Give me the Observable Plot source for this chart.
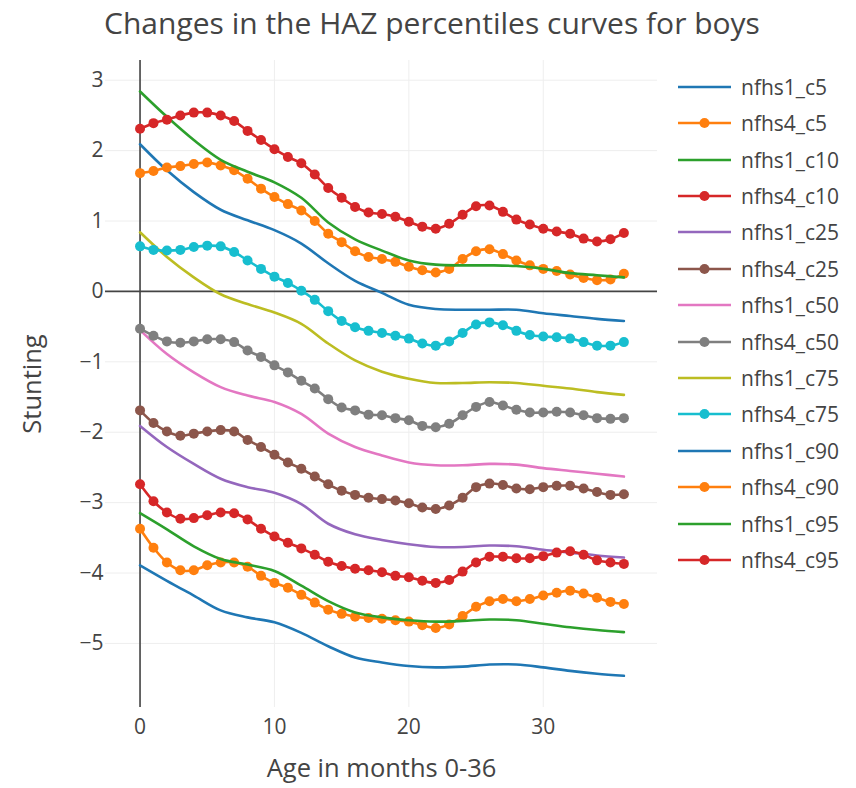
<!DOCTYPE html>
<html>
<head>
<meta charset="utf-8">
<script src="https://cdn.jsdelivr.net/npm/d3@7"></script>
<script src="https://cdn.jsdelivr.net/npm/@observablehq/plot@0.6"></script>
<style>
  body { margin: 0; background: #fff; font-family: "Open Sans", sans-serif; }
  #wrap { position: relative; width: 856px; height: 788px; overflow: hidden; }
  #title { position: absolute; left: 0; top: 3px; width: 864px; text-align: center;
           font-size: 30px; line-height: 40px; color: #444; white-space: nowrap; }
  #chart { position: absolute; left: 0; top: 55px; }
  .lg { position: absolute; left: 678px; height: 30px; display: flex; align-items: center; }
  .lg span { margin-left: 10px; font-size: 21px; color: #444; white-space: nowrap; }
</style>
</head>
<body>
<div id="wrap">
  <div id="title">Changes in the HAZ percentiles curves for boys</div>
  <div id="chart"></div>
  <div id="legend"></div>
</div>
<script>
// ---- data ----
const monthsAll = [0,1,2,3,4,5,6,7,8,9,10,11,12,13,14,15,16,17,18,19,20,21,22,23,24,25,26,27,28,29,30,31,32,33,34,35,36];
const monthsEven = [0,2,4,6,8,10,12,14,16,18,20,22,24,26,28,30,32,34,36];
const xTicks = [0, 10, 20, 30];
const yTicks = [-5, -4, -3, -2, -1, 0, 1, 2, 3];

const nfhs1_c5  = [2.09,1.72,1.41,1.16,1.01,0.87,0.68,0.40,0.15,-0.02,-0.19,-0.25,-0.26,-0.26,-0.26,-0.31,-0.35,-0.39,-0.42];
const nfhs4_c5  = [1.68,1.71,1.76,1.78,1.81,1.83,1.79,1.72,1.60,1.46,1.34,1.24,1.15,1.00,0.82,0.70,0.57,0.49,0.46,
                   0.42,0.35,0.30,0.27,0.32,0.46,0.57,0.60,0.53,0.44,0.37,0.32,0.29,0.24,0.19,0.16,0.17,0.25];
const nfhs1_c10 = [2.84,2.48,2.15,1.87,1.70,1.55,1.33,0.98,0.74,0.58,0.44,0.38,0.37,0.37,0.36,0.32,0.26,0.23,0.20];
const nfhs4_c10 = [2.31,2.39,2.44,2.50,2.54,2.54,2.50,2.42,2.28,2.15,2.02,1.91,1.82,1.66,1.47,1.33,1.20,1.12,1.10,1.06,
                   0.99,0.92,0.89,0.96,1.09,1.21,1.22,1.13,1.02,0.95,0.89,0.85,0.82,0.75,0.71,0.74,0.83];
const nfhs1_c25 = [-1.91,-2.21,-2.45,-2.66,-2.78,-2.86,-3.02,-3.30,-3.45,-3.53,-3.59,-3.63,-3.63,-3.61,-3.62,-3.67,-3.71,-3.75,-3.78];
const nfhs4_c25 = [-1.69,-1.87,-1.99,-2.05,-2.02,-1.99,-1.97,-1.99,-2.11,-2.21,-2.32,-2.43,-2.52,-2.63,-2.74,-2.83,-2.89,-2.93,
                   -2.95,-2.97,-3.01,-3.07,-3.09,-3.04,-2.93,-2.78,-2.73,-2.75,-2.80,-2.81,-2.78,-2.76,-2.76,-2.80,-2.85,-2.89,-2.88];
const nfhs1_c50 = [-0.55,-0.89,-1.15,-1.36,-1.48,-1.57,-1.74,-2.02,-2.21,-2.33,-2.43,-2.47,-2.47,-2.45,-2.46,-2.51,-2.55,-2.59,-2.63];
const nfhs4_c50 = [-0.53,-0.63,-0.71,-0.73,-0.71,-0.68,-0.68,-0.72,-0.84,-0.93,-1.05,-1.15,-1.27,-1.38,-1.53,-1.65,-1.69,-1.75,
                   -1.76,-1.80,-1.83,-1.91,-1.93,-1.88,-1.76,-1.64,-1.57,-1.62,-1.68,-1.72,-1.72,-1.71,-1.72,-1.76,-1.80,-1.81,-1.80];
const nfhs1_c75 = [0.84,0.49,0.20,-0.04,-0.18,-0.30,-0.46,-0.74,-0.98,-1.14,-1.24,-1.30,-1.30,-1.29,-1.30,-1.34,-1.38,-1.43,-1.47];
const nfhs4_c75 = [0.64,0.59,0.58,0.59,0.63,0.65,0.64,0.56,0.44,0.32,0.21,0.12,0.01,-0.12,-0.28,-0.42,-0.51,-0.56,-0.59,-0.63,
                   -0.67,-0.74,-0.77,-0.71,-0.59,-0.47,-0.44,-0.48,-0.56,-0.62,-0.64,-0.65,-0.67,-0.72,-0.77,-0.77,-0.72];
const nfhs1_c90 = [-3.89,-4.11,-4.32,-4.53,-4.63,-4.70,-4.85,-5.04,-5.20,-5.27,-5.32,-5.34,-5.33,-5.30,-5.30,-5.34,-5.39,-5.43,-5.46];
const nfhs4_c90 = [-3.37,-3.64,-3.85,-3.96,-3.96,-3.89,-3.85,-3.85,-3.91,-4.04,-4.14,-4.21,-4.31,-4.42,-4.52,-4.58,-4.62,-4.64,-4.65,-4.67,
                   -4.69,-4.74,-4.78,-4.73,-4.61,-4.48,-4.40,-4.37,-4.40,-4.37,-4.32,-4.28,-4.25,-4.29,-4.35,-4.41,-4.44];
const nfhs1_c95 = [-3.15,-3.38,-3.62,-3.80,-3.88,-3.97,-4.18,-4.40,-4.56,-4.63,-4.67,-4.69,-4.68,-4.66,-4.67,-4.72,-4.77,-4.81,-4.84];
const nfhs4_c95 = [-2.74,-2.98,-3.14,-3.23,-3.22,-3.18,-3.14,-3.15,-3.24,-3.37,-3.48,-3.57,-3.65,-3.74,-3.84,-3.90,-3.94,-3.96,-3.99,-4.04,
                   -4.06,-4.11,-4.14,-4.10,-3.98,-3.85,-3.77,-3.77,-3.79,-3.79,-3.76,-3.71,-3.69,-3.74,-3.82,-3.85,-3.87];

const seriesNames = ["nfhs1_c5","nfhs4_c5","nfhs1_c10","nfhs4_c10","nfhs1_c25","nfhs4_c25","nfhs1_c50",
                     "nfhs4_c50","nfhs1_c75","nfhs4_c75","nfhs1_c90","nfhs4_c90","nfhs1_c95","nfhs4_c95"];
const seriesValues = [nfhs1_c5,nfhs4_c5,nfhs1_c10,nfhs4_c10,nfhs1_c25,nfhs4_c25,nfhs1_c50,
                      nfhs4_c50,nfhs1_c75,nfhs4_c75,nfhs1_c90,nfhs4_c90,nfhs1_c95,nfhs4_c95];
const seriesColors = ["#1f77b4","#ff7f0e","#2ca02c","#d62728","#9467bd","#8c564b","#e377c2",
                      "#7f7f7f","#bcbd22","#17becf","#1f77b4","#ff7f0e","#2ca02c","#d62728"];

// ---- chart ----
const fmt = d => (d < 0 ? "\u2212" + Math.abs(d) : String(d));
const marks = [
  Plot.gridX(xTicks, {stroke: "#eee", strokeOpacity: 1, strokeWidth: 1}),
  Plot.gridY(yTicks, {stroke: "#eee", strokeOpacity: 1, strokeWidth: 1}),
  Plot.ruleY([0], {stroke: "#444", strokeWidth: 1.6}),
  Plot.ruleX([0], {stroke: "#444", strokeWidth: 1.6}),
];
seriesNames.forEach((name, k) => {
  const withMarkers = name.startsWith("nfhs4");
  const xs = withMarkers ? monthsAll : monthsEven;
  const data = xs.map((m, i) => ({m, v: seriesValues[k][i]}));
  marks.push(Plot.line(data, {x: "m", y: "v", stroke: seriesColors[k], strokeWidth: 2.6, curve: "catmull-rom"}));
  if (withMarkers) marks.push(Plot.dot(data, {x: "m", y: "v", fill: seriesColors[k], r: 5}));
});
marks.push(
  Plot.axisX(xTicks, {tickSize: 0, tickPadding: 12, fontSize: 21, tickFormat: fmt, label: null}),
  Plot.axisY(yTicks, {tickSize: 0, tickPadding: 2, fontSize: 21, tickFormat: fmt, label: null}),
  Plot.text(["Stunting"], {frameAnchor: "left", rotate: -90, textAnchor: "middle", dx: -73, fontSize: 25.5, fill: "#444"}),
  Plot.text(["Age in months 0-36"], {frameAnchor: "bottom", textAnchor: "middle", dy: 69, fontSize: 25.5, fill: "#444"})
);

const chart = Plot.plot({
  width: 856,
  height: 733,
  marginLeft: 105,
  marginRight: 199,
  marginTop: 5,
  marginBottom: 81,
  x: {domain: [-2.57, 38.5]},
  y: {domain: [-5.91, 3.28]},
  style: {fontFamily: "'Open Sans', sans-serif", fontSize: "21px", color: "#444", background: "transparent", overflow: "visible"},
  marks
});
document.getElementById("chart").appendChild(chart);

// ---- legend ----
const legend = document.getElementById("legend");
seriesNames.forEach((name, k) => {
  const withMarkers = name.startsWith("nfhs4");
  const cy = 86.7 + k * 36.4;
  const div = document.createElement("div");
  div.className = "lg";
  div.style.top = (cy - 15) + "px";
  div.innerHTML = `<svg width="53" height="30"><line x1="0" x2="53" y1="15" y2="15" stroke="${seriesColors[k]}" stroke-width="2.6"/>` +
    (withMarkers ? `<circle cx="26.5" cy="15" r="5" fill="${seriesColors[k]}"/>` : "") +
    `</svg><span>${name}</span>`;
  legend.appendChild(div);
});
</script>
</body>
</html>
